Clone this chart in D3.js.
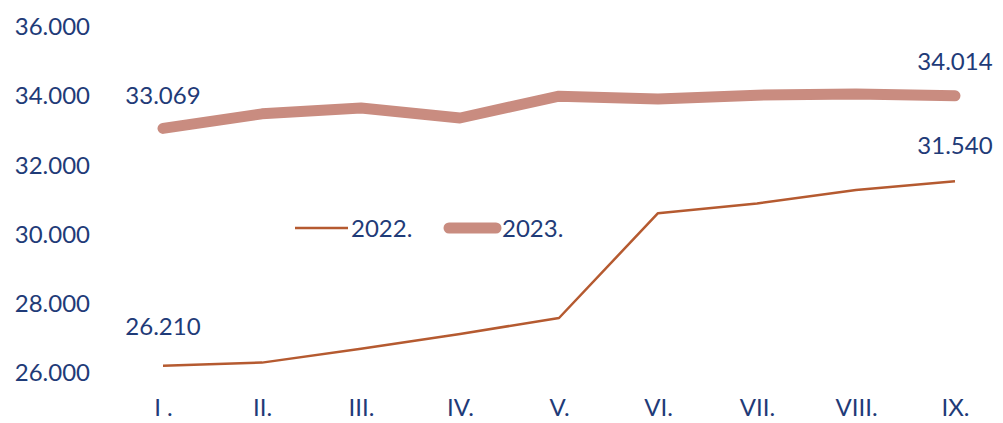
<!DOCTYPE html>
<html>
<head>
<meta charset="utf-8">
<script src="https://cdn.jsdelivr.net/npm/d3@7"></script>
<style>
  body { margin: 0; background: #fff; }
  svg { display: block; font-family: Lato, "Liberation Sans", sans-serif; }
</style>
</head>
<body>
<svg width="1003" height="423"></svg>
<script>
// months (roman numerals as in source)
const months = ["I .", "II.", "III.", "IV.", "V.", "VI.", "VII.", "VIII.", "IX."];
const values2022 = [26210, 26300, 26700, 27130, 27590, 30620, 30900, 31290, 31540];
const values2023 = [33069, 33490, 33660, 33370, 34000, 33920, 34030, 34060, 34014];
const yTicks = [26000, 28000, 30000, 32000, 34000, 36000];
const seriesNames = ["2022.", "2023."];

const textColor = "#1f3b78";
const col2022 = "#b55a30";
const col2023 = "#c98c80";

const svg = d3.select("svg");
const margin = {top: 27, left: 110, right: 48, bottom: 50};
const w = 1003, h = 423;

const fmt = v => d3.format(",.0f")(v).replace(/,/g, ".");

const x = d3.scalePoint()
  .domain(months)
  .range([163, 955]);

const y = d3.scaleLinear()
  .domain([26000, 36000])
  .range([373, 27]);

// y axis labels, no lines
const yAxis = svg.append("g")
  .attr("transform", "translate(90,0)")
  .call(d3.axisLeft(y).tickValues(yTicks).tickSize(0).tickPadding(0).tickFormat(fmt));
yAxis.select(".domain").remove();
yAxis.selectAll("text")
  .attr("fill", textColor)
  .style("font-size", "24px")
  .style("font-family", "Lato, sans-serif");

// x axis labels
const xAxis = svg.append("g")
  .attr("transform", "translate(0,397)")
  .call(d3.axisBottom(x).tickSize(0).tickPadding(0));
xAxis.select(".domain").remove();
xAxis.selectAll("text")
  .attr("fill", textColor)
  .attr("dy", "0.8em")
  .style("font-size", "24px")
  .style("font-family", "Lato, sans-serif");

const line = d3.line()
  .x((d, i) => x(months[i]))
  .y(d => y(d));

svg.append("path")
  .datum(values2023)
  .attr("d", line)
  .attr("fill", "none")
  .attr("stroke", col2023)
  .attr("stroke-width", 11)
  .attr("stroke-linecap", "round")
  .attr("stroke-linejoin", "round");

svg.append("path")
  .datum(values2022)
  .attr("d", line)
  .attr("fill", "none")
  .attr("stroke", col2022)
  .attr("stroke-width", 2.5)
  .attr("stroke-linejoin", "round");

// data labels at first and last points
function label(i, v, dy) {
  svg.append("text")
    .attr("x", x(months[i]))
    .attr("y", y(v) + dy)
    .attr("text-anchor", "middle")
    .attr("fill", textColor)
    .style("font-size", "24px")
    .text(fmt(v));
}
label(0, values2023[0], -24);
label(8, values2023[8], -26);
label(0, values2022[0], -31);
label(8, values2022[8], -27);

// legend
const legend = svg.append("g");
legend.append("line")
  .attr("x1", 295).attr("x2", 348).attr("y1", 228).attr("y2", 228)
  .attr("stroke", col2022).attr("stroke-width", 2.5);
legend.append("text")
  .attr("x", 351).attr("y", 237)
  .attr("fill", textColor).style("font-size", "24px")
  .text(seriesNames[0]);
legend.append("line")
  .attr("x1", 449).attr("x2", 496).attr("y1", 228).attr("y2", 228)
  .attr("stroke", col2023).attr("stroke-width", 11).attr("stroke-linecap", "round");
legend.append("text")
  .attr("x", 502).attr("y", 237)
  .attr("fill", textColor).style("font-size", "24px")
  .text(seriesNames[1]);
</script>
</body>
</html>
